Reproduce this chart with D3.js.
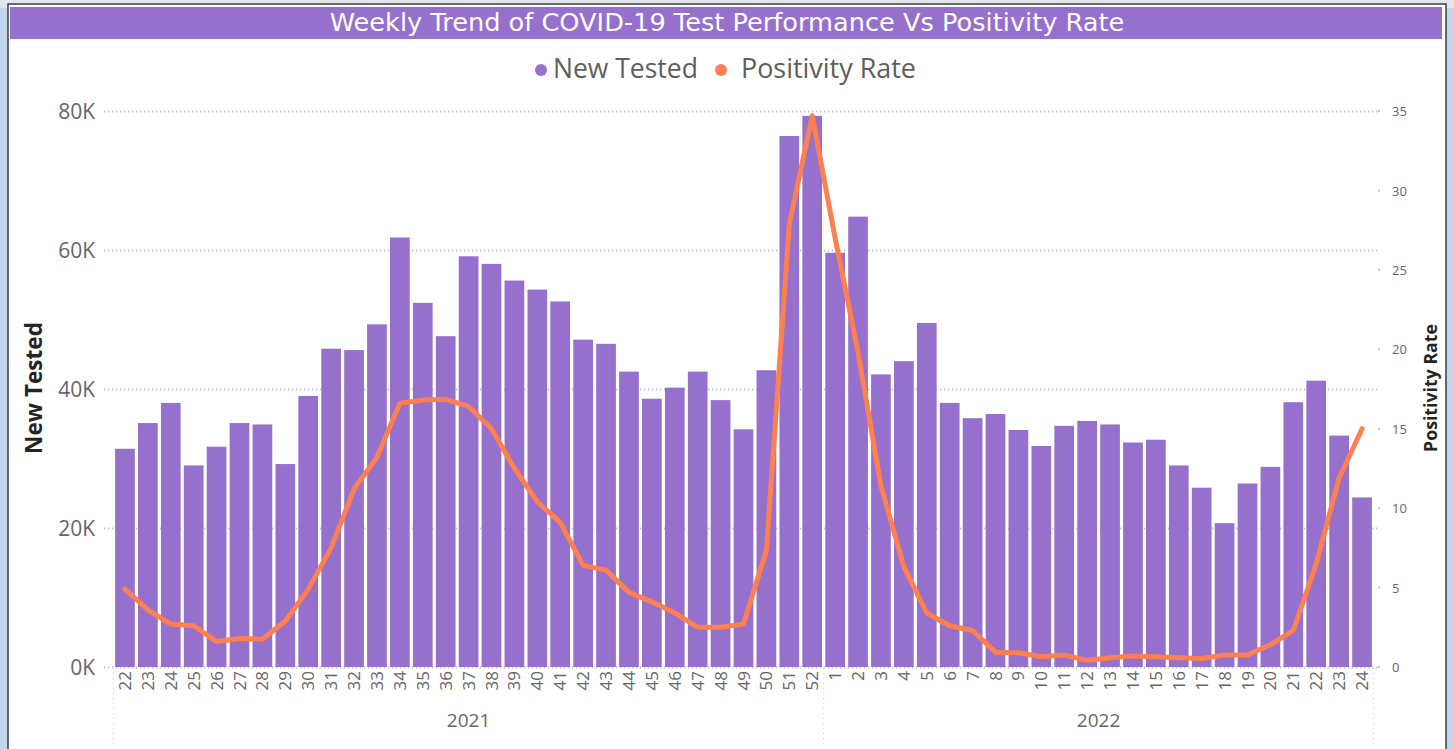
<!DOCTYPE html>
<html>
<head>
<meta charset="utf-8">
<script src="https://cdn.jsdelivr.net/npm/d3@7"></script>
<style>
  body { margin: 0; background: #bfd6ee; overflow: hidden; }
  svg { display: block; }
</style>
</head>
<body>
<div id="chart"></div>
<script>
var svgWidth = 1454;
var svgHeight = 749;

// week labels and the year each belongs to
var weeks = [22, 23, 24, 25, 26, 27, 28, 29, 30, 31, 32, 33, 34, 35, 36, 37, 38, 39, 40, 41,
  42, 43, 44, 45, 46, 47, 48, 49, 50, 51, 52,
  1, 2, 3, 4, 5, 6, 7, 8, 9, 10, 11, 12, 13, 14, 15, 16, 17, 18, 19, 20, 21, 22, 23, 24];
var years = ["2021", "2022"];
var weeksPerYear = [31, 24];

// New Tested (bars)
var newTested = [31400, 35100, 38000, 29000, 31700, 35100, 34900, 29200, 39000, 45800,
  45600, 49300, 61800, 52400, 47600, 59100, 58000, 55600, 54300, 52600,
  47100, 46500, 42500, 38600, 40200, 42500, 38400, 34200, 42700, 76400, 79300,
  59600, 64800, 42100, 44000, 49500, 38000, 35800, 36400, 34100, 31800,
  34700, 35400, 34900, 32300, 32700, 29000, 25800, 20700, 26400, 28800,
  38100, 41200, 33300, 24400];

// Positivity Rate (line)
var positivity = [4.9, 3.6, 2.7, 2.6, 1.6, 1.8, 1.75, 2.9, 4.9, 7.5,
  11.2, 13.2, 16.6, 16.8, 16.85, 16.4, 15.0, 12.5, 10.4, 9.1,
  6.4, 6.1, 4.7, 4.1, 3.4, 2.5, 2.5, 2.7, 7.35, 27.9, 34.7,
  27.0, 19.8, 11.4, 6.3, 3.4, 2.6, 2.3, 0.93, 0.9, 0.65,
  0.75, 0.42, 0.58, 0.7, 0.65, 0.58, 0.54, 0.75, 0.77, 1.4,
  2.3, 6.5, 11.9, 15.0];

var leftTicks = [0, 20000, 40000, 60000, 80000];
var rightTicks = [0, 5, 10, 15, 20, 25, 30, 35];

var purple = "#9570cc";
var orange = "#fe7f50";
var greyText = "#605e5c";

var plot = { left: 113.5, right: 1373.5, top: 111, bottom: 667 };

var svg = d3.select("#chart")
  .append("svg")
  .attr("width", svgWidth)
  .attr("height", svgHeight);

// frame around the visual
svg.append("rect").attr("x", 0).attr("y", 0).attr("width", svgWidth).attr("height", 8).attr("fill", "#e3e6ea");
svg.append("rect").attr("x", 8).attr("y", 4).attr("width", 1438).attr("height", 750)
  .attr("fill", "#ffffff").attr("stroke", "#3c3c3c").attr("stroke-width", 1.5);

// scale a text's font size so it spans a given width
function fitWidth(sel, w) {
  var len = sel.node().getComputedTextLength();
  var fs = parseFloat(sel.style("font-size"));
  sel.style("font-size", (fs * w / len) + "px");
}

// title bar
svg.append("rect").attr("x", 10).attr("y", 7).attr("width", 1432).attr("height", 32).attr("fill", "#9570cc");
var title = svg.append("text")
  .attr("x", 727).attr("y", 31)
  .attr("text-anchor", "middle")
  .attr("fill", "#ffffff")
  .style("font-family", "'DejaVu Sans', 'Noto Sans', sans-serif")
  .style("font-size", "21px")
  .text("Weekly Trend of COVID-19 Test Performance Vs Positivity Rate");
fitWidth(title, 795);

// scales
var xScale = d3.scaleBand()
  .domain(d3.range(weeks.length))
  .range([plot.left, plot.right])
  .paddingInner(0.14)
  .paddingOuter(0.07);

var yLeft = d3.scaleLinear().domain([0, 80000]).range([plot.bottom, plot.top]);
var yRight = d3.scaleLinear().domain([0, 35]).range([plot.bottom, plot.top]);

// gridlines
svg.append("g")
  .selectAll("line")
  .data(leftTicks)
  .enter()
  .append("line")
  .attr("x1", 104)
  .attr("x2", 1378)
  .attr("y1", function(d) { return Math.round(yLeft(d)) + 0.5; })
  .attr("y2", function(d) { return Math.round(yLeft(d)) + 0.5; })
  .attr("stroke", "#c4c4c4")
  .attr("stroke-width", 2)
  .attr("stroke-dasharray", "1.3,2.7");

// small marks for the right axis
svg.append("g")
  .selectAll("line")
  .data(rightTicks)
  .enter()
  .append("line")
  .attr("x1", 1378)
  .attr("x2", 1380)
  .attr("y1", function(d) { return yRight(d); })
  .attr("y2", function(d) { return yRight(d); })
  .attr("stroke", "#c8c8c8")
  .attr("stroke-width", 2);

// bars
svg.append("g")
  .selectAll("rect")
  .data(newTested)
  .enter()
  .append("rect")
  .attr("x", function(d, i) { return xScale(i); })
  .attr("width", xScale.bandwidth())
  .attr("y", function(d) { return yLeft(d); })
  .attr("height", function(d) { return yLeft(0) - yLeft(d); })
  .attr("fill", purple);

// positivity line
var line = d3.line()
  .x(function(d, i) { return xScale(i) + xScale.bandwidth() / 2; })
  .y(function(d) { return yRight(d); });

svg.append("path")
  .datum(positivity)
  .attr("d", line)
  .attr("fill", "none")
  .attr("stroke", orange)
  .attr("stroke-width", 5)
  .attr("stroke-linejoin", "round")
  .attr("stroke-linecap", "round");

// left axis
var leftAxis = d3.axisLeft(yLeft)
  .tickValues(leftTicks)
  .tickSize(0)
  .tickPadding(0)
  .tickFormat(function(d) { return (d / 1000) + "K"; });

var gLeft = svg.append("g")
  .attr("transform", "translate(95,0)")
  .call(leftAxis);
gLeft.select(".domain").remove();
gLeft.selectAll("text")
  .attr("fill", "#666666")
  .attr("dy", "0.36em")
  .style("font-family", "'Open Sans', 'Noto Sans', sans-serif")
  .style("font-size", "21px");

// right axis
var rightAxis = d3.axisRight(yRight)
  .tickValues(rightTicks)
  .tickSize(0)
  .tickPadding(0);

var gRight = svg.append("g")
  .attr("transform", "translate(1392,0)")
  .call(rightAxis);
gRight.select(".domain").remove();
gRight.selectAll("text")
  .attr("fill", "#666666")
  .attr("dy", "0.36em")
  .style("font-family", "'Open Sans', 'Noto Sans', sans-serif")
  .style("font-size", "13px");

// axis titles
var t1 = svg.append("text")
  .attr("transform", "translate(42,388) rotate(-90)")
  .attr("text-anchor", "middle")
  .attr("fill", "#252423")
  .style("font-family", "'Open Sans', 'Noto Sans', sans-serif")
  .style("font-weight", "bold")
  .style("font-size", "19px")
  .text("New Tested");
fitWidth(t1, 132);

var t2 = svg.append("text")
  .attr("transform", "translate(1437,388) rotate(-90)")
  .attr("text-anchor", "middle")
  .attr("fill", "#252423")
  .style("font-family", "'Open Sans', 'Noto Sans', sans-serif")
  .style("font-weight", "bold")
  .style("font-size", "15px")
  .text("Positivity Rate");
fitWidth(t2, 128);

// week labels (rotated)
svg.append("g")
  .selectAll("text")
  .data(weeks)
  .enter()
  .append("text")
  .attr("transform", function(d, i) {
    return "translate(" + (xScale(i) + xScale.bandwidth() / 2 + 6) + ",671) rotate(-90)";
  })
  .attr("text-anchor", "end")
  .attr("fill", "#666666")
  .style("font-family", "'Open Sans', 'Noto Sans', sans-serif")
  .style("font-size", "17px")
  .text(function(d) { return d; });

// year labels and separators
var startIdx = 0;
var separators = [xScale(0) - xScale.step() * 0.07];
years.forEach(function(y, k) {
  var endIdx = startIdx + weeksPerYear[k] - 1;
  var x0 = xScale(startIdx);
  var x1 = xScale(endIdx) + xScale.bandwidth();
  svg.append("text")
    .attr("x", (x0 + x1) / 2)
    .attr("y", 727)
    .attr("text-anchor", "middle")
    .attr("fill", "#666666")
    .style("font-family", "'Open Sans', 'Noto Sans', sans-serif")
    .style("font-size", "19px")
    .text(y);
  separators.push(x1 + xScale.step() * 0.07);
  startIdx = endIdx + 1;
});

svg.append("g")
  .selectAll("line")
  .data(separators)
  .enter()
  .append("line")
  .attr("x1", function(d) { return d; })
  .attr("x2", function(d) { return d; })
  .attr("y1", 668)
  .attr("y2", 745)
  .attr("stroke", "#d0d0d0")
  .attr("stroke-width", 1)
  .attr("stroke-dasharray", "1,4");

// legend
var legend = svg.append("g");
legend.append("circle").attr("cx", 541).attr("cy", 70).attr("r", 6).attr("fill", purple);
var l1 = legend.append("text")
  .attr("x", 553).attr("y", 78)
  .attr("fill", greyText)
  .style("font-family", "'Open Sans', 'Noto Sans', sans-serif")
  .style("font-size", "22px")
  .text("New Tested");
fitWidth(l1, 145);
legend.append("circle").attr("cx", 721).attr("cy", 70).attr("r", 6).attr("fill", orange);
var l2 = legend.append("text")
  .attr("x", 741).attr("y", 78)
  .attr("fill", greyText)
  .style("font-family", "'Open Sans', 'Noto Sans', sans-serif")
  .style("font-size", "22px")
  .text("Positivity Rate");
fitWidth(l2, 175);
</script>
</body>
</html>
